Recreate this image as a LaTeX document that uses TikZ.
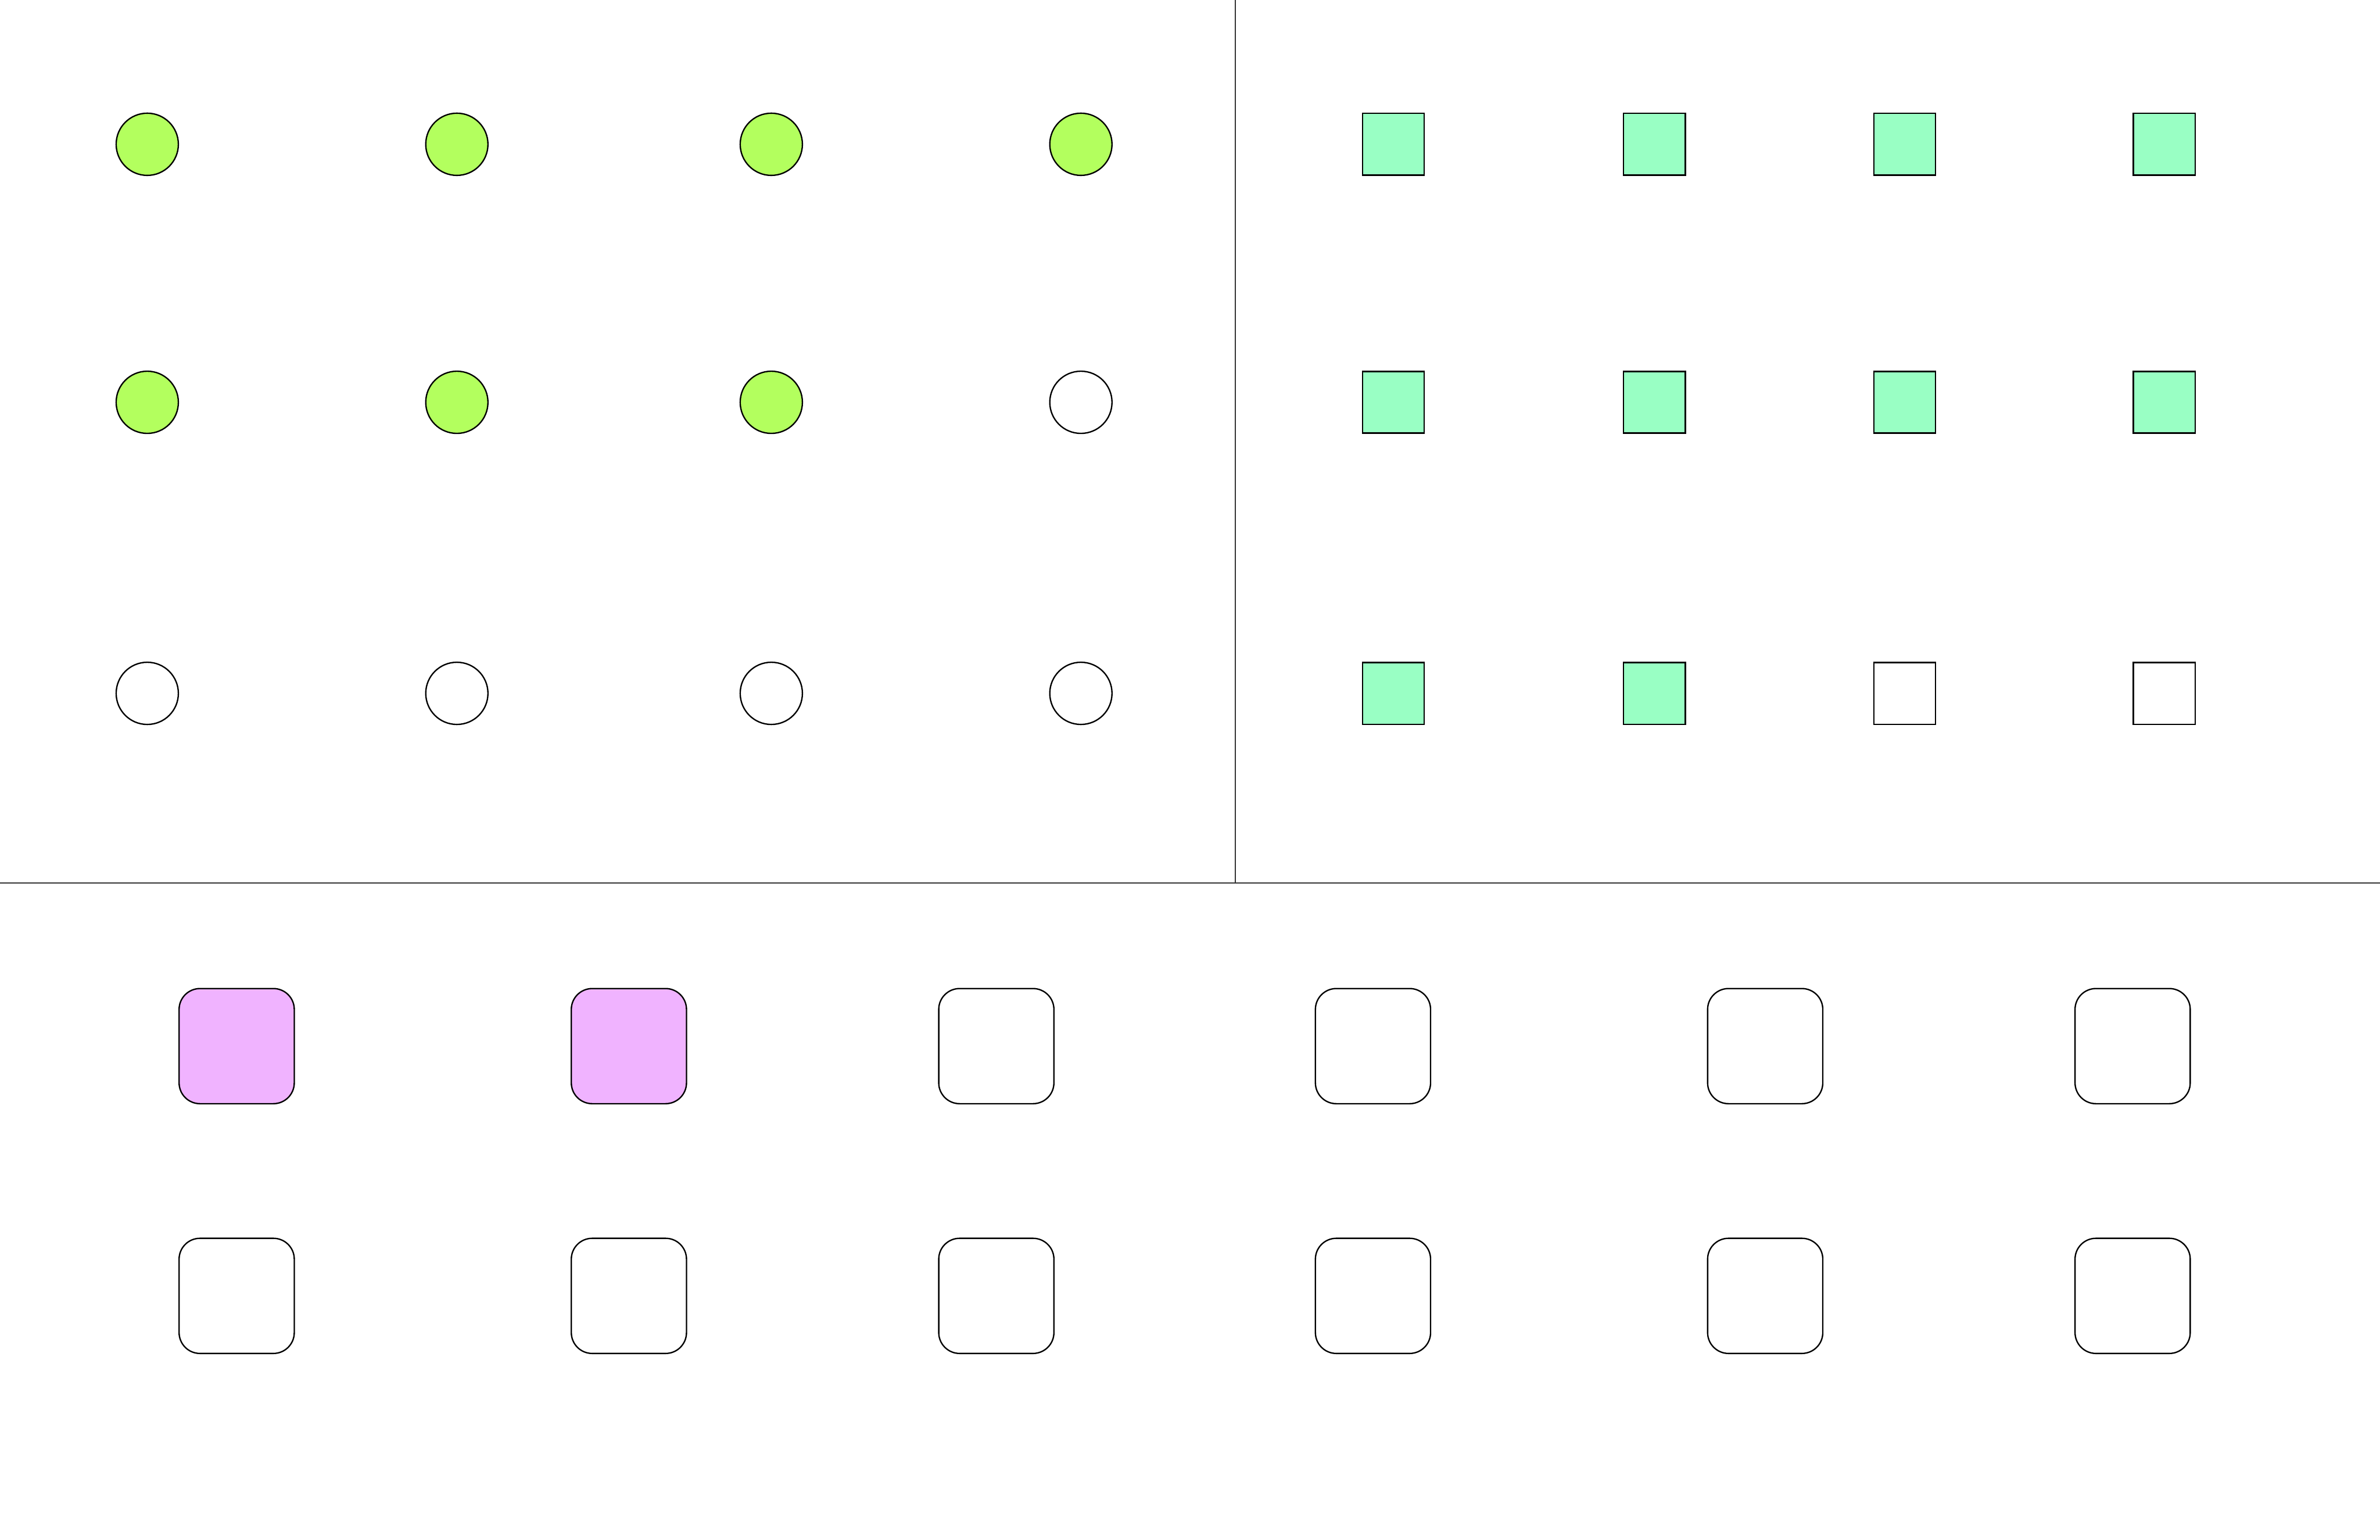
\documentclass[tikz,border=0pt]{standalone}
\usepackage{tikz}
\definecolor{dotgreen}{RGB}{179,255,94}
\definecolor{tilemint}{RGB}{153,255,196}
\definecolor{padpink}{RGB}{240,179,255}

\begin{document}
\begin{tikzpicture}[
    line width=0.8pt,
    dot/.style={draw, circle, minimum size=1.28cm, inner sep=0pt},
    tile/.style={draw, rectangle, minimum size=1.27cm, inner sep=0pt},
    pad/.style={draw, rectangle, rounded corners=0.43cm, minimum size=2.37cm, inner sep=0pt},
    divider/.style={line width=0.8pt, black!80}
  ]
    \useasboundingbox (0,0) rectangle (48.97,31.69);
    % dividers
    \coordinate (midtop) at (25.42,31.69);
    \coordinate (midcut) at (25.42,13.52);
    \coordinate (leftcut) at (0,13.52);
    \coordinate (rightcut) at (48.97,13.52);
    \draw[divider] (midtop) -- (midcut);
    \draw[divider] (leftcut) -- (rightcut);
    % circles, top left
    \foreach \x [count=\i] in {3.03,9.40,15.87,22.24}
      \foreach \y/\r in {28.72/1,23.41/2,17.42/3} {
        \pgfmathtruncatemacro{\on}{(\r==1) || (\r==2 && \i<4)}
        \ifnum\on=1 \def\fc{dotgreen}\else \def\fc{white}\fi
        \node[dot, fill=\fc] (c\r\i) at (\x,\y) {};
      }
    % squares, top right
    \foreach \x [count=\i] in {28.67,34.04,39.19,44.53}
      \foreach \y/\r in {28.72/1,23.41/2,17.42/3} {
        \pgfmathtruncatemacro{\on}{(\r<3) || (\i<3)}
        \ifnum\on=1 \def\fc{tilemint}\else \def\fc{white}\fi
        \node[tile, fill=\fc] (s\r\i) at (\x,\y) {};
      }
    % rounded squares, bottom
    \foreach \x [count=\i] in {4.87,12.94,20.50,28.25,36.32,43.88}
      \foreach \y/\r in {10.16/1,5.02/2} {
        \pgfmathtruncatemacro{\on}{(\r==1) && (\i<3)}
        \ifnum\on=1 \def\fc{padpink}\else \def\fc{white}\fi
        \node[pad, fill=\fc] (p\r\i) at (\x,\y) {};
      }
  \end{tikzpicture}
\end{document}
